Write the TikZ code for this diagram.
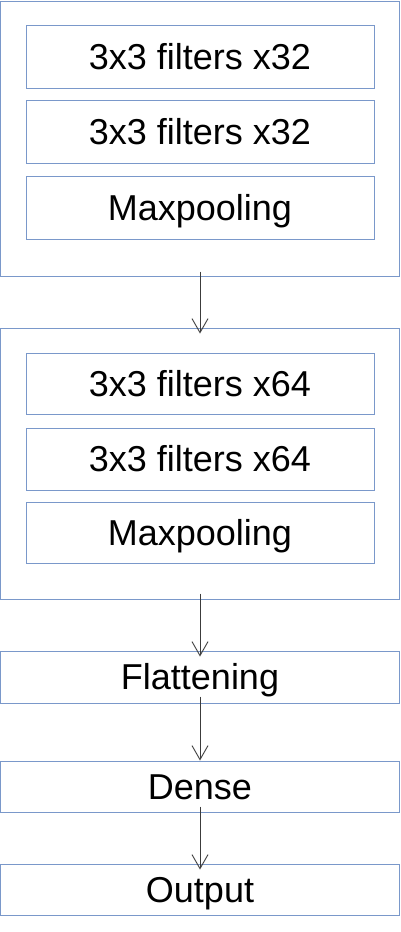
\documentclass[tikz,border=0pt]{standalone}
\usepackage{fontspec}
\setmainfont{Liberation Sans}
\usetikzlibrary{arrows.meta}
\definecolor{boxline}{RGB}{122,152,202}
\definecolor{arrowc}{RGB}{60,60,60}
\tikzset{
  box/.style={draw=boxline, line width=1pt, inner sep=0pt, rectangle,
    font=\fontsize{36}{36}\selectfont, text height=25.8pt, text depth=0pt},
  conn/.style={draw=arrowc, line width=0.9pt, -{Straight Barb[length=14pt,width=16pt,line width=0.9pt]}}
}
\begin{document}
\begin{tikzpicture}[x=1pt,y=-1pt]
\useasboundingbox (0,0) rectangle (400,932);
\node[box, minimum width=399pt, minimum height=275pt] (o1) at (200,138.5) {};
\node[box, minimum width=348pt, minimum height=63pt] (a1) at (200,56.5) {3x3 filters x32};
\node[box, minimum width=348pt, minimum height=63pt] (a2) at (200,131.5) {3x3 filters x32};
\node[box, minimum width=348pt, minimum height=63pt] (a3) at (200,207.5) {Maxpooling};
\node[box, minimum width=399pt, minimum height=271pt] (o2) at (200,463.5) {};
\node[box, minimum width=348pt, minimum height=61pt] (b1) at (200,383.5) {3x3 filters x64};
\node[box, minimum width=348pt, minimum height=62pt] (b2) at (200,459) {3x3 filters x64};
\node[box, minimum width=348pt, minimum height=61pt] (b3) at (200,532.5) {Maxpooling};
\node[box, minimum width=399pt, minimum height=52pt] (fl) at (200,677) {Flattening};
\node[box, minimum width=399pt, minimum height=51pt] (de) at (200,786.5) {Dense};
\node[box, minimum width=399pt, minimum height=51pt] (ou) at (200,889.5) {Output};
\draw[conn, shorten <=-5pt, shorten >=-6pt] (o1.south) -- (o2.north);
\draw[conn, shorten <=-6pt, shorten >=-6pt] (o2.south) -- (fl.north);
\draw[conn, shorten <=-7pt, shorten >=0pt] (fl.south) -- (de.north);
\draw[conn, shorten <=-6pt, shorten >=-6pt] (de.south) -- (ou.north);
\end{tikzpicture}
\end{document}
